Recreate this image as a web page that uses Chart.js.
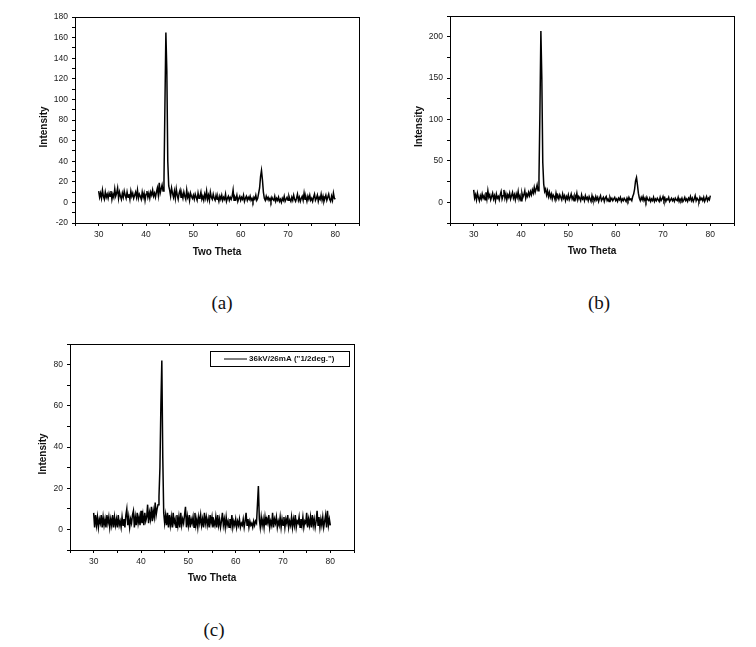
<!DOCTYPE html>
<html>
<head>
<meta charset="utf-8">
<script src="https://cdn.jsdelivr.net/npm/chart.js@4.4.0/dist/chart.umd.min.js"></script>
<style>
  html, body { margin: 0; padding: 0; background: #fff; }
  body { width: 756px; height: 647px; position: relative; overflow: hidden; }
  .panel { position: absolute; width: 350px; height: 265px; }
  .caption { position: absolute; width: 60px; margin-left: -30px; text-align: center;
             font-family: "Liberation Serif", serif; font-size: 19px; line-height: 20px; color: #111; }
</style>
</head>
<body>
<div class="panel" style="left:20px;top:0px"><canvas id="chartA"></canvas></div>
<div class="panel" style="left:395px;top:0px"><canvas id="chartB"></canvas></div>
<div class="panel" style="left:15px;top:327px"><canvas id="chartC"></canvas></div>
<div class="caption" style="left:222px;top:293px">(a)</div>
<div class="caption" style="left:599px;top:293px">(b)</div>
<div class="caption" style="left:214px;top:620px">(c)</div>

<script>
// scan angles (2θ, deg)
const twoTheta = [
  30.0,30.2,30.4,30.6,30.8,31.0,31.2,31.4,31.6,31.8,
  32.0,32.2,32.4,32.6,32.8,33.0,33.2,33.4,33.6,33.8,
  34.0,34.2,34.4,34.6,34.8,35.0,35.2,35.4,35.6,35.8,
  36.0,36.2,36.4,36.6,36.8,37.0,37.2,37.4,37.6,37.8,
  38.0,38.2,38.4,38.6,38.8,39.0,39.2,39.4,39.6,39.8,
  40.0,40.2,40.4,40.6,40.8,41.0,41.2,41.4,41.6,41.8,
  42.0,42.2,42.4,42.6,42.8,43.0,43.2,43.4,43.6,43.8,
  44.0,44.2,44.4,44.6,44.8,45.0,45.2,45.4,45.6,45.8,
  46.0,46.2,46.4,46.6,46.8,47.0,47.2,47.4,47.6,47.8,
  48.0,48.2,48.4,48.6,48.8,49.0,49.2,49.4,49.6,49.8,
  50.0,50.2,50.4,50.6,50.8,51.0,51.2,51.4,51.6,51.8,
  52.0,52.2,52.4,52.6,52.8,53.0,53.2,53.4,53.6,53.8,
  54.0,54.2,54.4,54.6,54.8,55.0,55.2,55.4,55.6,55.8,
  56.0,56.2,56.4,56.6,56.8,57.0,57.2,57.4,57.6,57.8,
  58.0,58.2,58.4,58.6,58.8,59.0,59.2,59.4,59.6,59.8,
  60.0,60.2,60.4,60.6,60.8,61.0,61.2,61.4,61.6,61.8,
  62.0,62.2,62.4,62.6,62.8,63.0,63.2,63.4,63.6,63.8,
  64.0,64.2,64.4,64.6,64.8,65.0,65.2,65.4,65.6,65.8,
  66.0,66.2,66.4,66.6,66.8,67.0,67.2,67.4,67.6,67.8,
  68.0,68.2,68.4,68.6,68.8,69.0,69.2,69.4,69.6,69.8,
  70.0,70.2,70.4,70.6,70.8,71.0,71.2,71.4,71.6,71.8,
  72.0,72.2,72.4,72.6,72.8,73.0,73.2,73.4,73.6,73.8,
  74.0,74.2,74.4,74.6,74.8,75.0,75.2,75.4,75.6,75.8,
  76.0,76.2,76.4,76.6,76.8,77.0,77.2,77.4,77.6,77.8,
  78.0,78.2,78.4,78.6,78.8,79.0,79.2,79.4,79.6,79.8,
  80.0
];

// (a)
const intensityA = [
  11,5,9,4,12,6,3,10,5,8,
  4,9,6,11,3,8,5,13,6,9,
  14,4,10,6,3,9,5,11,7,4,
  10,5,8,3,11,6,9,4,7,10,
  5,12,4,8,6,3,10,5,9,2,
  8,11,5,9,4,10,7,12,6,9,
  5,10,14,7,19,9,13,17,11,22,
  95,165,128,40,16,12,6,14,9,5,
  11,4,13,7,3,9,12,5,8,4,
  10,6,3,12,5,8,2,9,6,4,
  7,3,8,5,2,9,4,6,10,3,
  6,2,8,4,11,3,7,2,10,5,
  3,8,4,2,7,3,5,1,6,3,
  7,2,5,3,8,1,4,6,2,5,
  3,6,12,2,5,3,7,1,4,6,
  2,5,3,7,1,4,6,2,5,3,
  6,2,4,1,5,3,7,2,4,9,
  14,25,31,22,10,4,2,6,3,5,
  2,4,1,5,3,2,6,1,4,2,
  5,1,3,0,4,2,6,1,3,5,
  2,6,3,1,5,2,7,3,1,4,
  8,2,5,1,4,6,2,9,3,5,
  1,6,3,7,2,4,1,5,8,2,
  4,7,1,5,3,8,2,6,1,4,
  7,2,5,8,3,1,6,2,9,4,
  3
];

// (b)
const intensityB = [
  15,5,9,3,11,6,2,8,4,10,
  5,8,3,12,4,14,6,9,3,7,
  11,4,8,2,10,5,7,3,9,13,
  4,8,15,5,10,3,9,6,11,4,
  8,12,5,9,3,10,6,13,4,8,
  2,11,6,9,14,5,10,7,12,8,
  13,9,15,11,18,12,16,21,14,30,
  110,207,150,48,22,13,16,9,14,7,
  12,6,10,4,9,7,3,11,5,8,
  4,9,6,3,10,5,8,2,7,4,
  9,3,6,10,4,7,2,8,5,11,
  3,7,5,2,9,4,6,2,8,4,
  6,2,7,4,1,8,3,5,2,7,
  3,6,1,5,8,2,4,6,1,5,
  7,2,4,1,6,3,5,2,4,6,
  2,4,1,5,3,6,1,4,2,5,
  3,1,5,2,6,3,4,2,7,10,
  16,26,30,21,11,5,2,6,3,7,
  2,5,1,6,3,2,5,1,4,2,
  6,1,4,2,5,3,1,6,2,4,
  7,2,5,1,4,3,6,1,3,5,
  2,4,1,5,3,2,6,1,4,2,
  5,1,3,6,2,4,1,5,3,7,
  2,5,1,4,8,2,5,3,1,6,
  3,5,2,6,1,4,7,2,5,3,
  8
];

// (c) 36kV/26mA
const intensityC = [
  8,1,7,2,6,1,5,3,7,1,
  6,2,5,1,7,3,6,1,5,2,
  7,1,6,2,5,1,7,2,4,1,
  6,2,5,1,7,10,2,6,1,5,
  3,7,9,1,6,2,8,3,6,2,
  9,3,7,2,8,4,6,12,3,8,
  5,11,4,9,6,13,7,10,12,16,
  30,60,82,35,8,3,7,2,8,1,
  7,2,6,1,8,3,5,1,7,2,
  6,1,8,2,5,3,7,11,1,6,
  2,7,1,5,3,6,1,8,2,5,
  1,6,3,7,2,5,1,8,3,6,
  2,5,1,7,3,6,1,4,2,6,
  1,7,2,5,1,4,8,2,5,1,
  6,2,4,1,5,2,7,1,4,2,
  5,1,4,2,5,1,3,2,5,1,
  4,8,2,5,1,4,2,3,1,4,
  2,4,3,12,21,5,1,6,2,5,
  1,6,2,5,3,7,1,4,2,8,
  1,5,3,6,1,4,2,6,1,5,
  2,6,1,5,3,7,1,4,2,6,
  1,5,2,7,1,4,3,6,1,5,
  2,6,1,4,3,8,1,5,2,6,
  1,7,2,5,1,4,9,2,6,1,
  5,2,6,1,4,7,1,9,2,5,
  2
];
const legendLabelC = '36kV/26mA ("1/2deg.")';

Chart.defaults.font.family = '"Liberation Sans", Arial, sans-serif';
Chart.defaults.color = '#1a1a1a';

// box round the plot area (Origin style frame)
const frameBox = {
  id: 'frameBox',
  afterDraw(chart) {
    const { ctx, chartArea: a } = chart;
    ctx.save();
    ctx.strokeStyle = '#000';
    ctx.lineWidth = 1;
    ctx.strokeRect(Math.round(a.left) + 0.5, Math.round(a.top) + 0.5,
                   Math.round(a.width), Math.round(a.height));
    ctx.restore();
  }
};

// framed legend in the top right corner
const boxLegend = {
  id: 'boxLegend',
  afterDraw(chart) {
    const { ctx, chartArea: a } = chart;
    const ds = chart.data.datasets[0];
    const w = 139, h = 15;
    const x0 = Math.round(a.right) - 5 - w, y0 = Math.round(a.top) + 7;
    ctx.save();
    ctx.strokeStyle = '#000';
    ctx.lineWidth = 1;
    ctx.strokeRect(x0 + 0.5, y0 + 0.5, w, h);
    ctx.beginPath();
    ctx.moveTo(x0 + 14, y0 + 8);
    ctx.lineTo(x0 + 37, y0 + 8);
    ctx.strokeStyle = ds.borderColor;
    ctx.stroke();
    ctx.fillStyle = '#111';
    ctx.font = 'bold 8px "Liberation Sans", Arial, sans-serif';
    ctx.textBaseline = 'middle';
    ctx.fillText(ds.label, x0 + 39, y0 + 8);
    ctx.restore();
  }
};

function makeChart(id, values, label, y, pad, extra) {
  return new Chart(document.getElementById(id), {
    type: 'line',
    data: {
      datasets: [{
        label: label,
        data: twoTheta.map((t, i) => ({ x: t, y: values[i] })),
        borderColor: '#000',
        borderWidth: 1.5,
        pointRadius: 0,
        tension: 0,
        fill: false
      }]
    },
    options: {
      responsive: true,
      maintainAspectRatio: false,
      animation: false,
      events: [],
      layout: { padding: { top: pad.top, right: 11, left: 0, bottom: 0 } },
      plugins: { legend: { display: false }, tooltip: { enabled: false } },
      scales: {
        x: {
          type: 'linear',
          min: 25, max: 85,
          afterFit: (s) => { s.height = 42; },
          border: { display: true, color: '#000', width: 1 },
          grid: { drawOnChartArea: false, drawTicks: true, tickLength: 3, color: '#000' },
          ticks: {
            stepSize: 5, autoSkip: false, maxRotation: 0, padding: 4,
            font: { size: 8.5 },
            callback: (v) => (v % 10 === 0 ? v : '')
          },
          title: {
            display: true, text: 'Two Theta', color: '#111',
            font: { size: 10, weight: 'bold' },
            padding: { top: 0, bottom: pad.xTitle }
          }
        },
        y: {
          type: 'linear',
          min: y.min, max: y.max,
          afterFit: (s) => { s.width = 55; },
          border: { display: true, color: '#000', width: 1 },
          grid: { drawOnChartArea: false, drawTicks: true, tickLength: 3, color: '#000' },
          ticks: {
            stepSize: y.step, autoSkip: false, padding: 4,
            font: { size: 8.5 },
            callback: (v) => (v % y.label === 0 ? v : '')
          },
          title: {
            display: true, text: 'Intensity     ', color: '#111',
            font: { size: 10, weight: 'bold' },
            padding: { top: pad.yTitle, bottom: 0 }
          }
        }
      }
    },
    plugins: [frameBox].concat(extra || [])
  });
}

makeChart('chartA', intensityA, 'a', { min: -20, max: 180, step: 10, label: 20 },
          { top: 17, yTitle: 18, xTitle: 7 });
makeChart('chartB', intensityB, 'b', { min: -25, max: 225, step: 25, label: 50 },
          { top: 16, yTitle: 18, xTitle: 8 });
makeChart('chartC', intensityC, legendLabelC, { min: -10, max: 90, step: 10, label: 20 },
          { top: 17, yTitle: 22, xTitle: 8 }, [boxLegend]);
</script>
</body>
</html>
